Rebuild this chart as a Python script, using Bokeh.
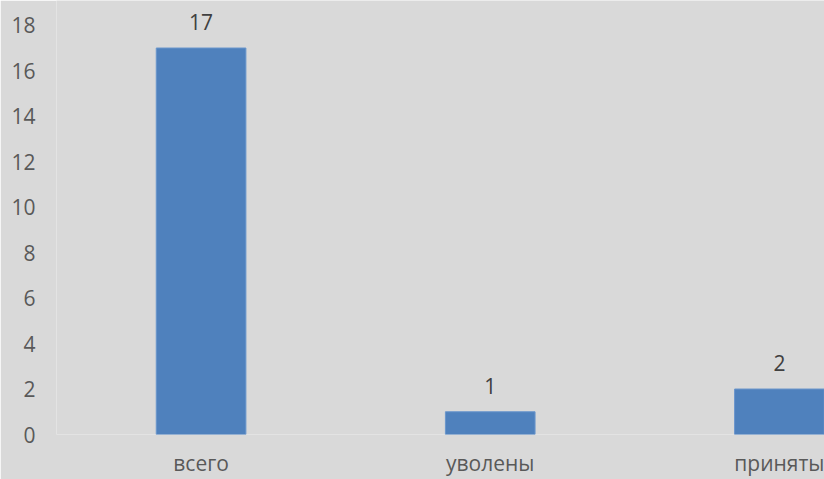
from bokeh.plotting import figure
from bokeh.models import ColumnDataSource, Range1d, FixedTicker
from bokeh.core.properties import value
from bokeh.embed import file_html
from bokeh.resources import INLINE

categories = ["всего", "уволены", "приняты"]
counts = [17, 1, 2]
y_ticks = [0, 2, 4, 6, 8, 10, 12, 14, 16, 18]

idx = list(range(len(categories)))
src = ColumnDataSource(dict(x=idx, top=counts, label=[str(c) for c in counts]))

BG = "#d9d9d9"
FONT = "Open Sans"

p = figure(width=824, height=479, output_backend="svg", toolbar_location=None,
           x_range=Range1d(-0.5, 2.156), y_range=Range1d(0, 19.09),
           background_fill_color=BG, border_fill_color=BG,
           min_border_left=56, min_border_right=0, min_border_top=0, min_border_bottom=44)
p.outline_line_color = None
p.xgrid.grid_line_color = None
p.ygrid.grid_line_color = None

p.vbar(x="x", top="top", width=0.31, source=src, fill_color="#4f81bd", line_color="#6a96cc", line_width=1)
p.text(x="x", y="top", text="label", source=src, text_align="center", text_baseline="middle",
       y_offset=-26, text_font=value(FONT), text_font_size="21px", text_color="#404040")

p.xaxis.ticker = FixedTicker(ticks=idx)
p.xaxis.major_label_overrides = {i: c for i, c in zip(idx, categories)}
p.yaxis.ticker = FixedTicker(ticks=y_ticks)
for ax in (p.xaxis, p.yaxis):
    ax.axis_line_color = None
    ax.major_tick_line_color = None
    ax.minor_tick_line_color = None
    ax.major_tick_out = 0
    ax.major_tick_in = 0
    ax.major_label_text_font = FONT
    ax.major_label_text_font_size = "21px"
    ax.major_label_text_color = "#595959"
p.xaxis.major_label_standoff = 14
p.yaxis.major_label_standoff = 21

open("out.html", "w").write(file_html(p, INLINE))
